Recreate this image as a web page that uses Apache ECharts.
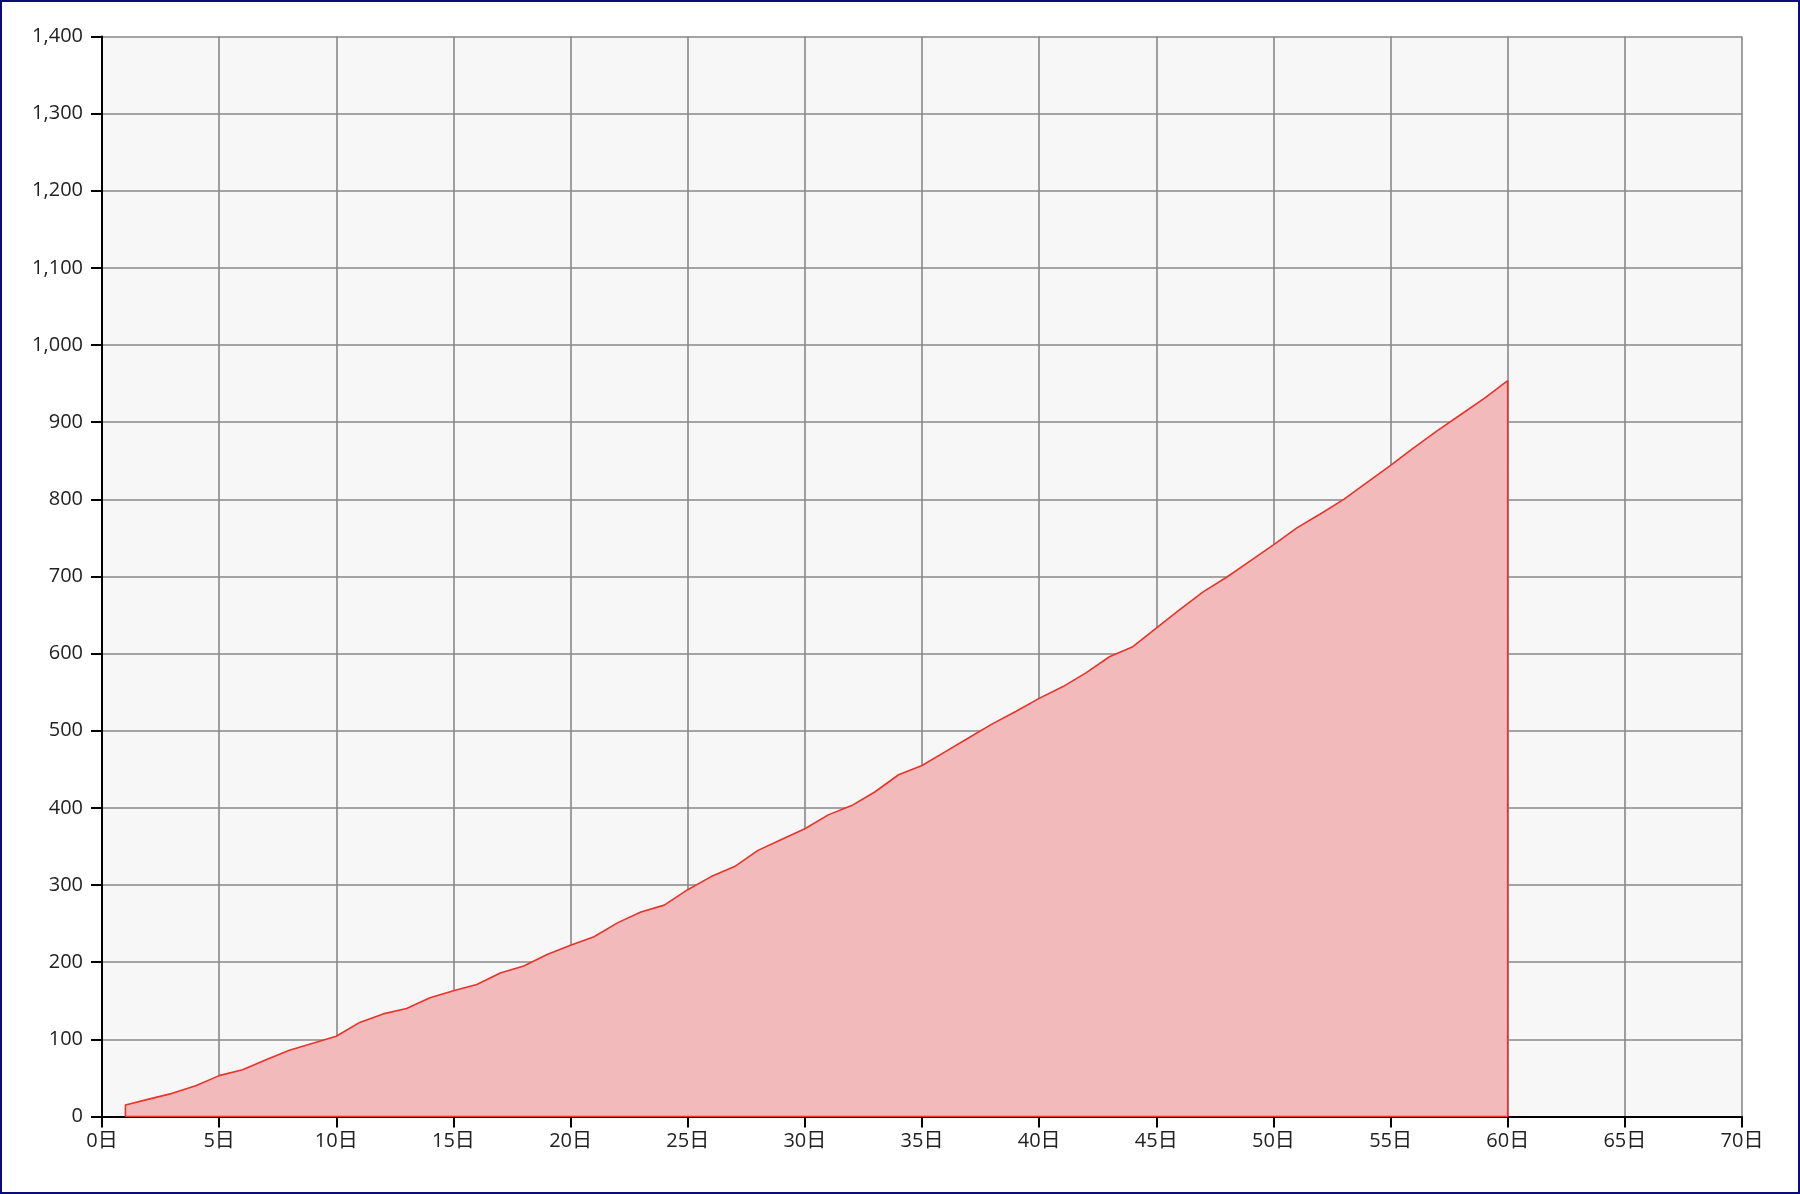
<!DOCTYPE html>
<html>
<head>
<meta charset="utf-8">
<script src="https://cdn.jsdelivr.net/npm/echarts@6/dist/echarts.min.js"></script>
<style>
  html, body { margin: 0; padding: 0; background: #ffffff; }
  #frame { width: 1800px; height: 1194px; box-sizing: border-box; border: 2px solid #0b0b7a; position: relative; background: #fff; }
  #chart { position: absolute; left: -2px; top: -2px; width: 1800px; height: 1194px; }
</style>
</head>
<body>
<div id="frame"><div id="chart"></div></div>
<script>
// Data
const days = [1,2,3,4,5,6,7,8,9,10,11,12,13,14,15,16,17,18,19,20,21,22,23,24,25,26,27,28,29,30,
              31,32,33,34,35,36,37,38,39,40,41,42,43,44,45,46,47,48,49,50,51,52,53,54,55,56,57,58,59,60];
const values = [15,22.5,30,40,53,60.5,73.5,86,95,104,122,133,140,154,163,171,186,195,210,222,
                233,251,265,274,294,311,324,345,359,373,391,403,421,443,455,473,491,509,525,542,
                557,575,596,609,633,657,680,699,720,741,763,781,800,822,844,867,889,910,931,954];
const xTicks = { min: 0, max: 70, step: 5, suffix: '日' };
const yTicks = { min: 0, max: 1400, step: 100 };

// Closed outline: baseline at first day, the curve, down to baseline at last day, back along baseline
const seriesData = [[days[0], 0]]
  .concat(days.map((d, i) => [d, values[i]]))
  .concat([[days[days.length - 1], 0], [days[0], 0]]);

const chart = echarts.init(document.getElementById('chart'), null, { renderer: 'canvas' });
const font = '"Open Sans", "Noto Sans CJK JP", sans-serif';
chart.setOption({
  animation: false,
  backgroundColor: 'transparent',
  grid: { left: 102, top: 36.5, right: 58, bottom: 77.5, show: true, backgroundColor: '#f7f7f7', borderWidth: 0 },
  xAxis: {
    type: 'value', min: xTicks.min, max: xTicks.max, interval: xTicks.step,
    axisLine: { show: true, onZero: false, lineStyle: { color: '#000', width: 2 } },
    axisTick: { show: true, length: 11, lineStyle: { color: '#000', width: 2 } },
    axisLabel: { margin: 15, color: '#222', fontSize: 20, fontFamily: font, formatter: v => v + xTicks.suffix },
    splitLine: { show: true, lineStyle: { color: '#888888', width: 1.6 } }
  },
  yAxis: {
    type: 'value', min: yTicks.min, max: yTicks.max, interval: yTicks.step,
    axisLine: { show: true, lineStyle: { color: '#000', width: 2 } },
    axisTick: { show: true, length: 11, lineStyle: { color: '#000', width: 2 } },
    axisLabel: { margin: 19, color: '#222', fontSize: 20, fontFamily: font, formatter: v => v.toLocaleString('en-US') },
    splitLine: { show: true, lineStyle: { color: '#888888', width: 1.6 } }
  },
  series: [{
    type: 'line',
    data: seriesData,
    showSymbol: false,
    symbol: 'none',
    smooth: false,
    z: 5,
    lineStyle: { color: '#e8332b', width: 1.6 },
    areaStyle: { color: '#f2baba', opacity: 1, origin: 0 }
  }]
});
</script>
</body>
</html>
